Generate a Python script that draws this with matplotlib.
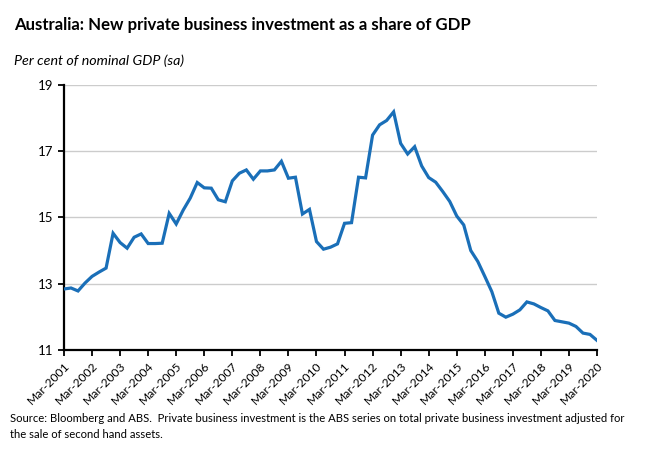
import numpy as np
import matplotlib
matplotlib.use('Agg')
import matplotlib.pyplot as plt

# quarterly, Mar-2001 .. Mar-2020, per cent of nominal GDP
years = list(range(2001, 2021))
tick_labels = ['Mar-' + str(y) for y in years]

share = [12.84, 12.87, 12.78, 13.02, 13.22, 13.35, 13.47, 14.52,
         14.24, 14.07, 14.40, 14.50, 14.21, 14.21, 14.22, 15.12,
         14.80, 15.22, 15.58, 16.05, 15.89, 15.88, 15.53, 15.47,
         16.10, 16.33, 16.43, 16.15, 16.40, 16.40, 16.43, 16.69,
         16.18, 16.21, 15.10, 15.24, 14.27, 14.04, 14.10, 14.20,
         14.82, 14.84, 16.21, 16.19, 17.48, 17.79, 17.92, 18.18,
         17.23, 16.91, 17.13, 16.55, 16.20, 16.06, 15.78, 15.48,
         15.04, 14.77, 14.00, 13.67, 13.22, 12.76, 12.11, 11.99,
         12.08, 12.21, 12.45, 12.39, 12.28, 12.18, 11.89, 11.85,
         11.81, 11.71, 11.51, 11.47, 11.29]

yticks = [11, 13, 15, 17, 19]

plt.rcParams['font.family'] = ['Lato', 'DejaVu Sans']

fig = plt.figure(figsize=(6.5, 4.55), dpi=100)
ax = fig.add_axes([64 / 650, 1 - 350 / 455, 533 / 650, (350 - 84.7) / 455])

q = np.arange(len(share))
ax.plot(q, share, color='#1a6fb8', lw=2.3, solid_joinstyle='miter', zorder=3)

ax.set_xlim(0, len(share) - 1)
ax.set_ylim(11, 19)
ax.set_yticks(yticks)
ax.set_xticks(np.arange(0, len(share), 4))
ax.set_xticklabels(tick_labels, rotation=45, ha='right', rotation_mode='anchor', fontsize=8.7)
ax.tick_params(axis='y', labelsize=9.5, length=4, width=1.3, direction='out', pad=4)
ax.tick_params(axis='x', length=4, width=1.3, direction='out', pad=3)
ax.yaxis.grid(True, color='#cccccc', lw=1)
ax.set_axisbelow(True)
for s in ['top', 'right']:
    ax.spines[s].set_visible(False)
for s in ['left', 'bottom']:
    ax.spines[s].set_linewidth(1.6)

fig.text(14 / 650, 1 - 25 / 455, 'Australia: New private business investment as a share of GDP',
         fontsize=12.1, fontweight='bold', va='center', ha='left')
fig.text(14 / 650, 1 - 61 / 455, 'Per cent of nominal GDP (sa)', fontsize=10.3,
         style='italic', va='center', ha='left')
fig.text(10 / 650, 1 - 418 / 455,
         'Source: Bloomberg and ABS.  Private business investment is the ABS series on total private business investment adjusted for',
         fontsize=8.1, va='center', ha='left')
fig.text(10 / 650, 1 - 435 / 455, 'the sale of second hand assets.', fontsize=8.1, va='center', ha='left')

fig.savefig('out.png', dpi=100)
